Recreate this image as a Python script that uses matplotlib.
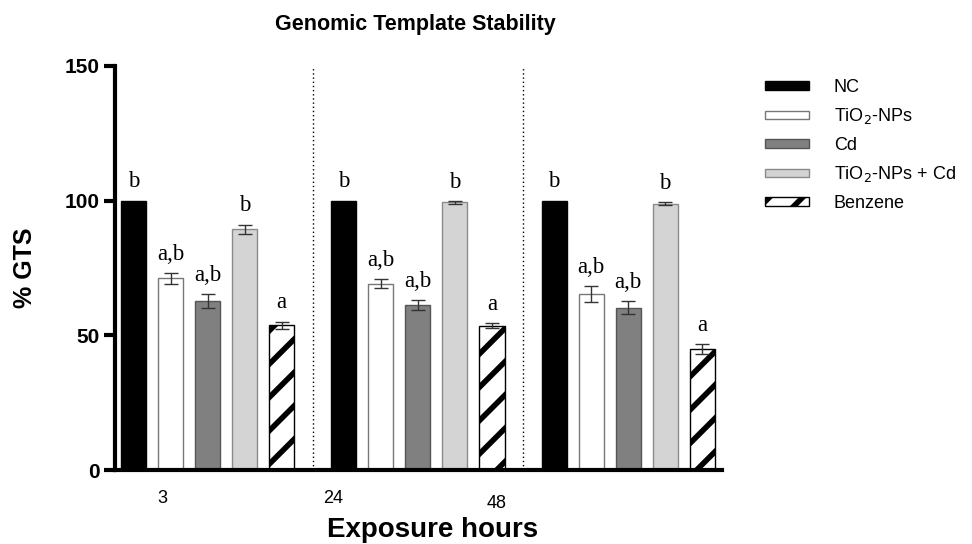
import numpy as np
import matplotlib.pyplot as plt
from matplotlib.patches import Patch

plt.rcParams['hatch.linewidth'] = 4

hours = ['3', '24', '48']
treatments = ['NC', 'TiO$_2$-NPs', 'Cd', 'TiO$_2$-NPs + Cd', 'Benzene']

# % GTS per treatment, one value per exposure time
nc = [100, 100, 100]
tio2 = [71.2, 69.2, 65.2]
cd = [62.8, 61.3, 60.3]
tio2_cd = [89.3, 99.3, 98.9]
benzene = [53.8, 53.6, 44.9]

nc_err = [0, 0, 0]
tio2_err = [2.0, 1.8, 3.0]
cd_err = [2.5, 1.9, 2.5]
tio2_cd_err = [1.8, 0.5, 0.6]
benzene_err = [1.3, 0.8, 2.0]

letters = ['b', 'a,b', 'a,b', 'b', 'a']

values = [nc, tio2, cd, tio2_cd, benzene]
errors = [nc_err, tio2_err, cd_err, tio2_cd_err, benzene_err]
faces = ['black', 'white', '#808080', '#d4d4d4', 'white']
edges = ['black', '#777777', '#555555', '#8a8a8a', 'black']
hatches = [None, None, None, None, '/']

fig = plt.figure(figsize=(9.72, 5.44), dpi=100)
ax = fig.add_axes([0.118, 0.136, 0.625, 0.743])

group_gap = 210 / 37
bar_w = 25 / 37
n = len(treatments)

for j, (vals, errs) in enumerate(zip(values, errors)):
    x = np.arange(len(hours)) * group_gap + j
    ax.bar(x, vals, width=bar_w, color=faces[j], edgecolor=edges[j],
           linewidth=1, hatch=hatches[j], zorder=2)
    if j > 0:
        ax.errorbar(x, vals, yerr=errs, fmt='none', ecolor='#333333',
                    elinewidth=1, capsize=5, capthick=1, zorder=3)
    for xi, v, e in zip(x, vals, errs):
        ax.text(xi, v + e + 3, letters[j], ha='center', va='bottom',
                fontsize=16.5, family='Liberation Serif')

# dotted separators between exposure groups
for g in range(1, len(hours)):
    xs = (g - 1) * group_gap + (n - 1) + (group_gap - (n - 1)) / 2
    ax.plot([xs, xs], [0, 150], color='black', linestyle=(0, (1, 2)),
            linewidth=1, zorder=1)

ax.set_xlim(-0.51, 15.89)
ax.set_ylim(0, 150)
ax.set_yticks([0, 50, 100, 150])
ax.set_yticklabels(['0', '50', '100', '150'], fontsize=15, fontweight='bold',
                   family='Liberation Sans')
ax.tick_params(axis='y', direction='out', length=8, width=3, pad=3)
ax.set_xticks([])

label_x = [0.78, 5.38, 9.81]
label_dy = [0, 0, -5]
for lx, dy, h in zip(label_x, label_dy, hours):
    ax.annotate(h, (lx, 0), xycoords='data', xytext=(0, -20 + dy),
                textcoords='offset pixels', ha='center', va='top',
                fontsize=13, family='Liberation Sans')

for s in ['top', 'right']:
    ax.spines[s].set_visible(False)
ax.spines['left'].set_linewidth(3)
ax.spines['bottom'].set_linewidth(3)

ax.set_ylabel('% GTS', fontsize=18, fontweight='bold', family='Liberation Sans',
              labelpad=20)
fig.text(0.4455, 0.026, 'Exposure hours', ha='center', va='center',
         fontsize=20, fontweight='bold', family='Liberation Sans')
fig.text(0.427, 0.955, 'Genomic Template Stability', ha='center', va='center',
         fontsize=15.5, fontweight='bold', family='Liberation Sans')

handles = [Patch(facecolor=faces[j], edgecolor=edges[j], hatch=hatches[j],
                 linewidth=1) for j in range(n)]
fig.legend(handles, treatments, loc='upper left', bbox_to_anchor=(0.787, 0.855),
           frameon=False, borderpad=0, borderaxespad=0,
           handlelength=2.44, handleheight=0.35,
           handletextpad=1.38, labelspacing=0.58,
           prop={'family': 'Liberation Sans', 'size': 13})

fig.savefig('out.png', dpi=100)
